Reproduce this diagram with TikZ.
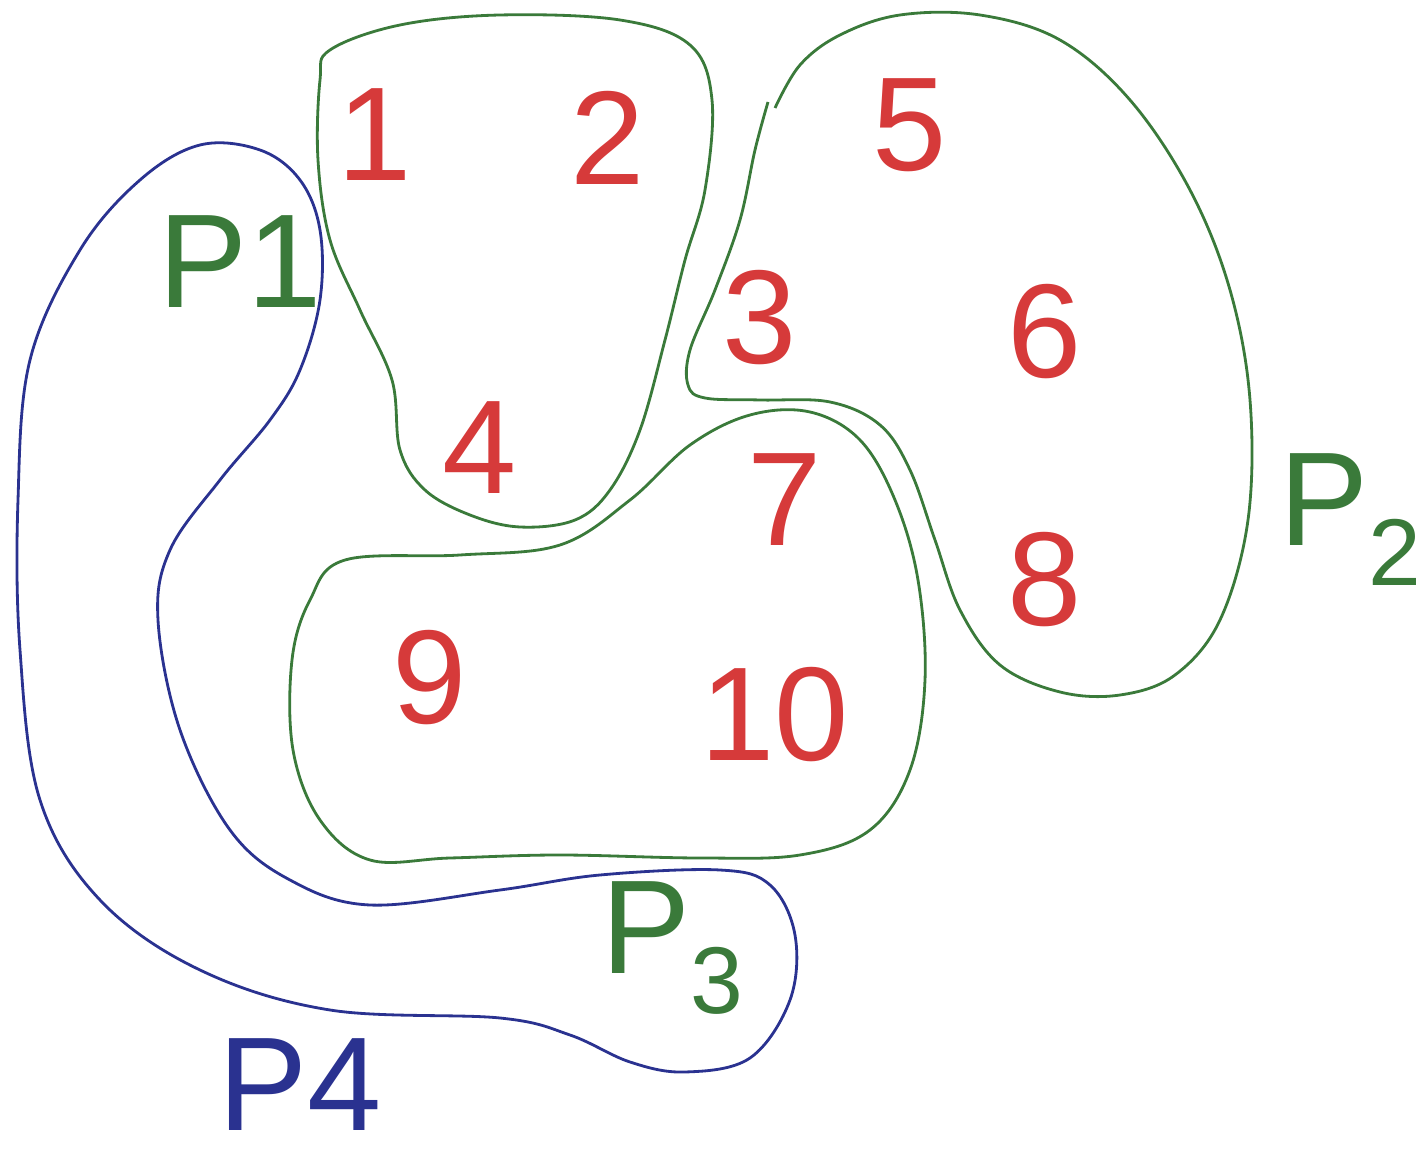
\documentclass[tikz,border=0pt]{standalone}
\usepackage{fontspec}
\setmainfont{Liberation Sans}
\usepackage{tikz}
\usetikzlibrary{positioning}
\definecolor{SetGreen}{HTML}{3A7A3A}
\definecolor{ElemRed}{HTML}{D63A3A}
\definecolor{PathBlue}{HTML}{2A3290}
\newcommand{\lowsub}[1]{\raisebox{-0.3em}{\fontsize{54}{54}\selectfont #1}}
\tikzset{
  blob/.style={draw=SetGreen,line width=1.6pt},
  route/.style={draw=PathBlue,line width=1.6pt},
  elem/.style={text=ElemRed,font=\fontsize{76}{86}\selectfont,inner sep=0pt},
  setlab/.style={text=SetGreen,font=\fontsize{76}{86}\selectfont,inner sep=0pt},
  routelab/.style={text=PathBlue,font=\fontsize{76}{86}\selectfont,inner sep=0pt}
}
\begin{document}
\begin{tikzpicture}[x=0.02cm,y=-0.02cm]
    \useasboundingbox (0,0) rectangle (1427,1168);
    % green sets
    \draw[blob] plot[smooth cycle,tension=0.6] coordinates {
      (330,50) (400,25) (500,15) (620,20) (690,45) (712,100) (705,190)
      (685,260) (665,340) (640,430) (610,490) (575,520) (520,527) (470,515)
      (425,490) (400,450) (392,380) (360,310) (330,240) (318,160) (320,80)};
    \draw[blob] plot[smooth,tension=0.6] coordinates {
      (768,102) (755,150) (740,220) (715,290) (690,350) (688,385) (705,398)
      (760,400) (830,402) (880,425) (910,470) (935,540) (960,610) (1000,665)
      (1060,692) (1120,695) (1175,675) (1220,620) (1248,520) (1250,400)
      (1230,290) (1190,190) (1130,100) (1060,40) (980,15) (900,15) (840,35)
      (800,65) (775,108)};
    \draw[blob] plot[smooth cycle,tension=0.6] coordinates {
      (345,560) (460,555) (560,545) (630,500) (690,445) (750,415) (810,412)
      (860,440) (895,500) (918,580) (925,680) (910,770) (870,830) (800,855)
      (700,858) (560,855) (450,858) (370,860) (320,820) (293,750) (292,660)
      (310,600)};
    % blue route
    \draw[route] plot[smooth cycle,tension=0.6] coordinates {
      (200,145) (140,180) (80,250) (30,360) (18,500) (20,650) (40,800)
      (100,900) (200,970) (330,1010) (500,1018) (570,1035) (630,1062)
      (685,1072) (750,1058) (790,1000) (795,935) (770,885) (720,870)
      (600,875) (500,890) (370,905) (290,880) (230,830) (180,730) (158,620)
      (170,550) (220,480) (270,420) (300,370) (320,300) (320,230) (300,180)
      (260,150)};
    % elements
    \node[elem] (e1) at (375,135) {1};
    \node[elem] (e2) at (608,138) {2};
    \node[elem] (e5) at (910,125) {5};
    \node[elem] (e3) at (760,318) {3};
    \node[elem] (e6) at (1045,332) {6};
    \node[elem] (e4) at (480,448) {4};
    \node[elem] (e7) at (785,500) {7};
    \node[elem] (e8) at (1045,580) {8};
    \node[elem] (e9) at (430,678) {9};
    \node[elem] (e10) at (775,715) {10};
    % labels
    \node[setlab] (p1) at (240,262) {P1};
    \node[setlab] (p2) at (1350,520) {P\lowsub{2}};
    \node[setlab] (p3) at (672,948) {P\lowsub{3}};
    \node[routelab] (p4) at (300,1085) {P4};
\end{tikzpicture}
\end{document}
